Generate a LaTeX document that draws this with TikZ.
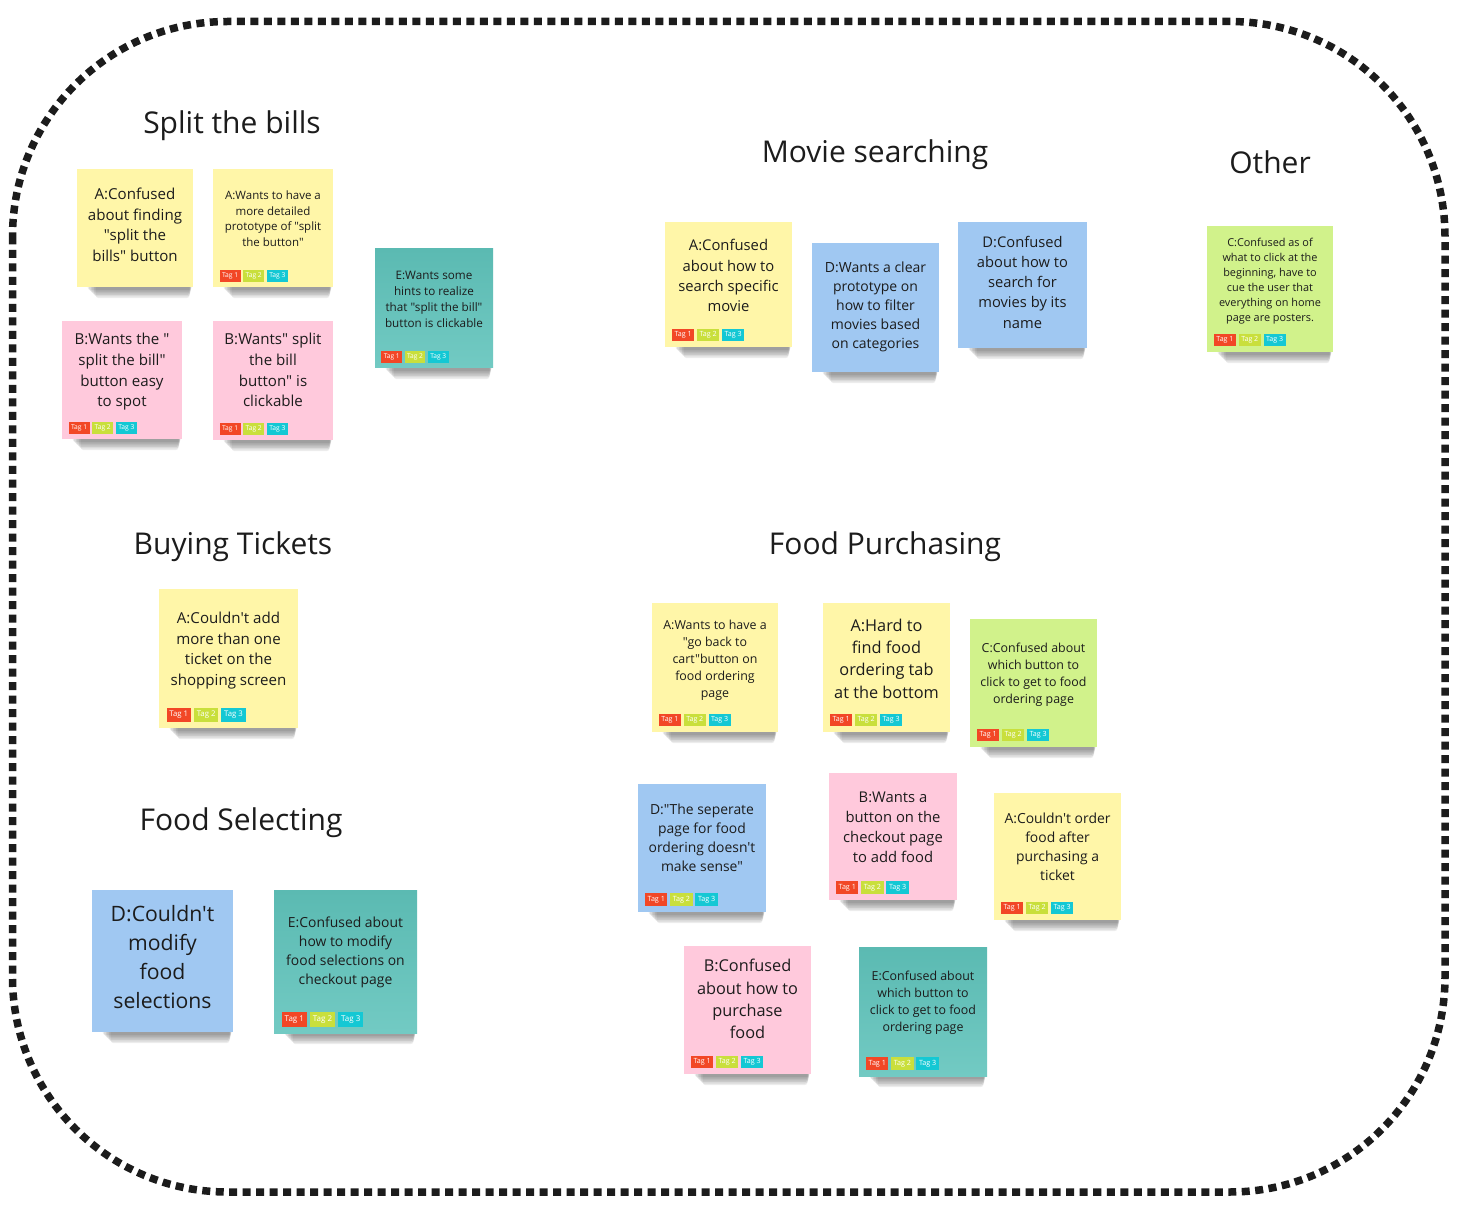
\documentclass[tikz,border=0pt]{standalone}
\usepackage{fontspec}
\newfontfamily\osans{Open Sans}

\definecolor{noteyellow}{HTML}{FFF6A8}
\definecolor{notepink}{HTML}{FFC9DC}
\definecolor{noteblue}{HTML}{A0C8F2}
\definecolor{notegreen}{HTML}{D1F28B}
\definecolor{tealtop}{HTML}{5BBAB2}
\definecolor{tealbot}{HTML}{72CAC3}
\definecolor{tagred}{HTML}{F24726}
\definecolor{taglime}{HTML}{C9DF3C}
\definecolor{tagcyan}{HTML}{14C8D4}
\definecolor{ink}{HTML}{1C1C1C}

\tikzset{
  notebox/.style={rectangle,draw=none,inner sep=0pt},
  yellownote/.style={fill=noteyellow},
  pinknote/.style={fill=notepink},
  bluenote/.style={fill=noteblue},
  greennote/.style={fill=notegreen},
  tealnote/.style={top color=tealtop,bottom color=tealbot},
  notetext/.style={align=center,text=ink,inner sep=0pt,
    execute at begin node=\strut,execute at end node=\strut},
  tagbox/.style={rectangle,draw=none,inner sep=0pt,text=white},
  heading/.style={anchor=base,text=ink,inner sep=0pt,
    font=\osans\fontsize{30}{36}\selectfont},
  frame/.style={draw=ink,line width=7.5pt,dash pattern=on 8pt off 5.5pt,
    rounded corners=215pt}
}

% sticky note: name, x1, y1, x2, y2, colour style, font size, text centre y, text
\newcommand{\stickynote}[9]{%
  \pgfmathsetmacro\nw{#4-#2}%
  \pgfmathsetmacro\nh{#5-#3}%
  \pgfmathsetmacro\ncx{(#2+#4)/2}%
  \pgfmathsetmacro\ncy{(#3+#5)/2}%
  \pgfmathsetmacro\nbs{1.37*#7}%
  \pgfmathsetmacro\nty{#8+0.2*#7+0.3}%
  \foreach \k in {1,...,6}{%
    \fill[black,opacity=0.075,rounded corners=3pt]
      ({#2+9+1.6*\k},{#5-3}) rectangle ({#4-1-0.4*\k},{#5+1.5+1.6*\k});}%
  \node[notebox,#6,minimum width=\nw pt,minimum height=\nh pt] (#1) at (\ncx,\ncy) {};%
  \node[notetext,font=\osans\fontsize{#7}{\nbs}\selectfont] (#1-text) at (\ncx,\nty) {#9};%
}

% row of three tags along the bottom of a note: name, x1, x2, y2
\newcommand{\tagrow}[4]{%
  \pgfmathsetmacro\tW{#3-#2}%
  \pgfmathsetmacro\tw{0.175*\tW}%
  \pgfmathsetmacro\th{0.1*\tW}%
  \pgfmathsetmacro\tf{0.056*\tW}%
  \pgfmathsetmacro\ty{#4-0.045*\tW-\th/2}%
  \pgfmathsetmacro\txa{#2+0.055*\tW+\tw/2}%
  \pgfmathsetmacro\txb{\txa+\tw+0.022*\tW}%
  \pgfmathsetmacro\txc{\txb+\tw+0.022*\tW}%
  \node[tagbox,fill=tagred,minimum width=\tw pt,minimum height=\th pt,
    font=\osans\fontsize{\tf}{\tf}\selectfont] (#1-t1) at (\txa,\ty) {Tag 1};%
  \node[tagbox,fill=taglime,minimum width=\tw pt,minimum height=\th pt,
    font=\osans\fontsize{\tf}{\tf}\selectfont] (#1-t2) at (\txb,\ty) {Tag 2};%
  \node[tagbox,fill=tagcyan,minimum width=\tw pt,minimum height=\th pt,
    font=\osans\fontsize{\tf}{\tf}\selectfont] (#1-t3) at (\txc,\ty) {Tag 3};%
}

\begin{document}
\begin{tikzpicture}[x=1pt,y=-1pt]
\useasboundingbox[fill=white] (0,0) rectangle (1473,1222);

% dashed outline round the board
\draw[frame] (12.5,21.5) rectangle (1445,1192);

% group headings
\node[heading] (h-split) at (232,134) {Split the bills};
\node[heading] (h-movie) at (875,163) {Movie searching};
\node[heading] (h-other) at (1270,174) {Other};
\node[heading] (h-tickets) at (233,554) {Buying Tickets};
\node[heading] (h-select) at (241,830) {Food Selecting};
\node[heading] (h-purchase) at (885,554) {Food Purchasing};

% Split the bills
\stickynote{sb1}{77}{169}{193}{287}{yellownote}{15.1}{224.5}{A:Confused\\about finding\\"split the\\bills" button}
\stickynote{sb2}{213}{169}{333}{287}{yellownote}{11.5}{218.5}{A:Wants to have a\\more detailed\\prototype of "split\\the button"}
\tagrow{sb2}{213}{333}{287}
\stickynote{sb3}{375}{249}{493}{368}{tealnote}{11.7}{299}{E:Wants some\\hints to realize\\that "split the bill"\\button is clickable}
\tagrow{sb3}{375}{493}{368}
\stickynote{sb4}{62}{321}{182}{439}{pinknote}{15.1}{370}{B:Wants the "\\split the bill"\\button easy\\to spot}
\tagrow{sb4}{62}{182}{439}
\stickynote{sb5}{213}{321}{333}{440}{pinknote}{15.1}{370}{B:Wants" split\\the bill\\button" is\\clickable}
\tagrow{sb5}{213}{333}{440}

% Movie searching
\stickynote{ms1}{665}{222}{792}{347}{yellownote}{14.8}{275.3}{A:Confused\\about how to\\search specific\\movie}
\tagrow{ms1}{665}{792}{347}
\stickynote{ms2}{812}{243}{939}{372}{bluenote}{14}{305}{D:Wants a clear\\prototype on\\how to filter\\movies based\\on categories}
\stickynote{ms3}{958}{222}{1087}{348}{bluenote}{14.7}{282}{D:Confused\\about how to\\search for\\movies by its\\name}

% Other
\stickynote{ot1}{1207}{226}{1333}{352}{greennote}{10.9}{279.5}{C:Confused as of\\what to click at the\\beginning, have to\\cue the user that\\everything on home\\page are posters.}
\tagrow{ot1}{1207}{1333}{352}

% Buying Tickets
\stickynote{bt1}{159}{589}{298}{728}{yellownote}{15.1}{648.7}{A:Couldn't add\\more than one\\ticket on the\\shopping screen}
\tagrow{bt1}{159}{298}{728}

% Food Selecting
\stickynote{fs1}{92}{890}{233}{1032}{bluenote}{21.2}{956.5}{D:Couldn't\\modify\\food\\selections}
\stickynote{fs2}{274}{890}{417}{1033}{tealnote}{13.9}{950.5}{E:Confused about\\how to modify\\food selections on\\checkout page}
\tagrow{fs2}{274}{417}{1033}

% Food Purchasing
\stickynote{fp1}{652}{603}{778}{732}{yellownote}{12.4}{658.3}{A:Wants to have a\\"go back to\\cart"button on\\food ordering\\page}
\tagrow{fp1}{652}{778}{732}
\stickynote{fp2}{823}{603}{950}{732}{yellownote}{16.3}{658.3}{A:Hard to\\find food\\ordering tab\\at the bottom}
\tagrow{fp2}{823}{950}{732}
\stickynote{fp3}{970}{619}{1097}{747}{greennote}{12.4}{673}{C:Confused about\\which button to\\click to get to food\\ordering page}
\tagrow{fp3}{970}{1097}{747}
\stickynote{fp4}{638}{784}{766}{912}{bluenote}{13.9}{837.5}{D:"The seperate\\page for food\\ordering doesn't\\make sense"}
\tagrow{fp4}{638}{766}{912}
\stickynote{fp5}{829}{773}{957}{900}{pinknote}{14.8}{827}{B:Wants a\\button on the\\checkout page\\to add food}
\tagrow{fp5}{829}{957}{900}
\stickynote{fp6}{994}{793}{1121}{920}{yellownote}{13.9}{846.8}{A:Couldn't order\\food after\\purchasing a\\ticket}
\tagrow{fp6}{994}{1121}{920}
\stickynote{fp7}{684}{946}{811}{1074}{pinknote}{16.3}{998.8}{B:Confused\\about how to\\purchase\\food}
\tagrow{fp7}{684}{811}{1074}
\stickynote{fp8}{859}{947}{987}{1076}{tealnote}{12.4}{1001.3}{E:Confused about\\which button to\\click to get to food\\ordering page}
\tagrow{fp8}{859}{987}{1076}
\end{tikzpicture}
\end{document}
